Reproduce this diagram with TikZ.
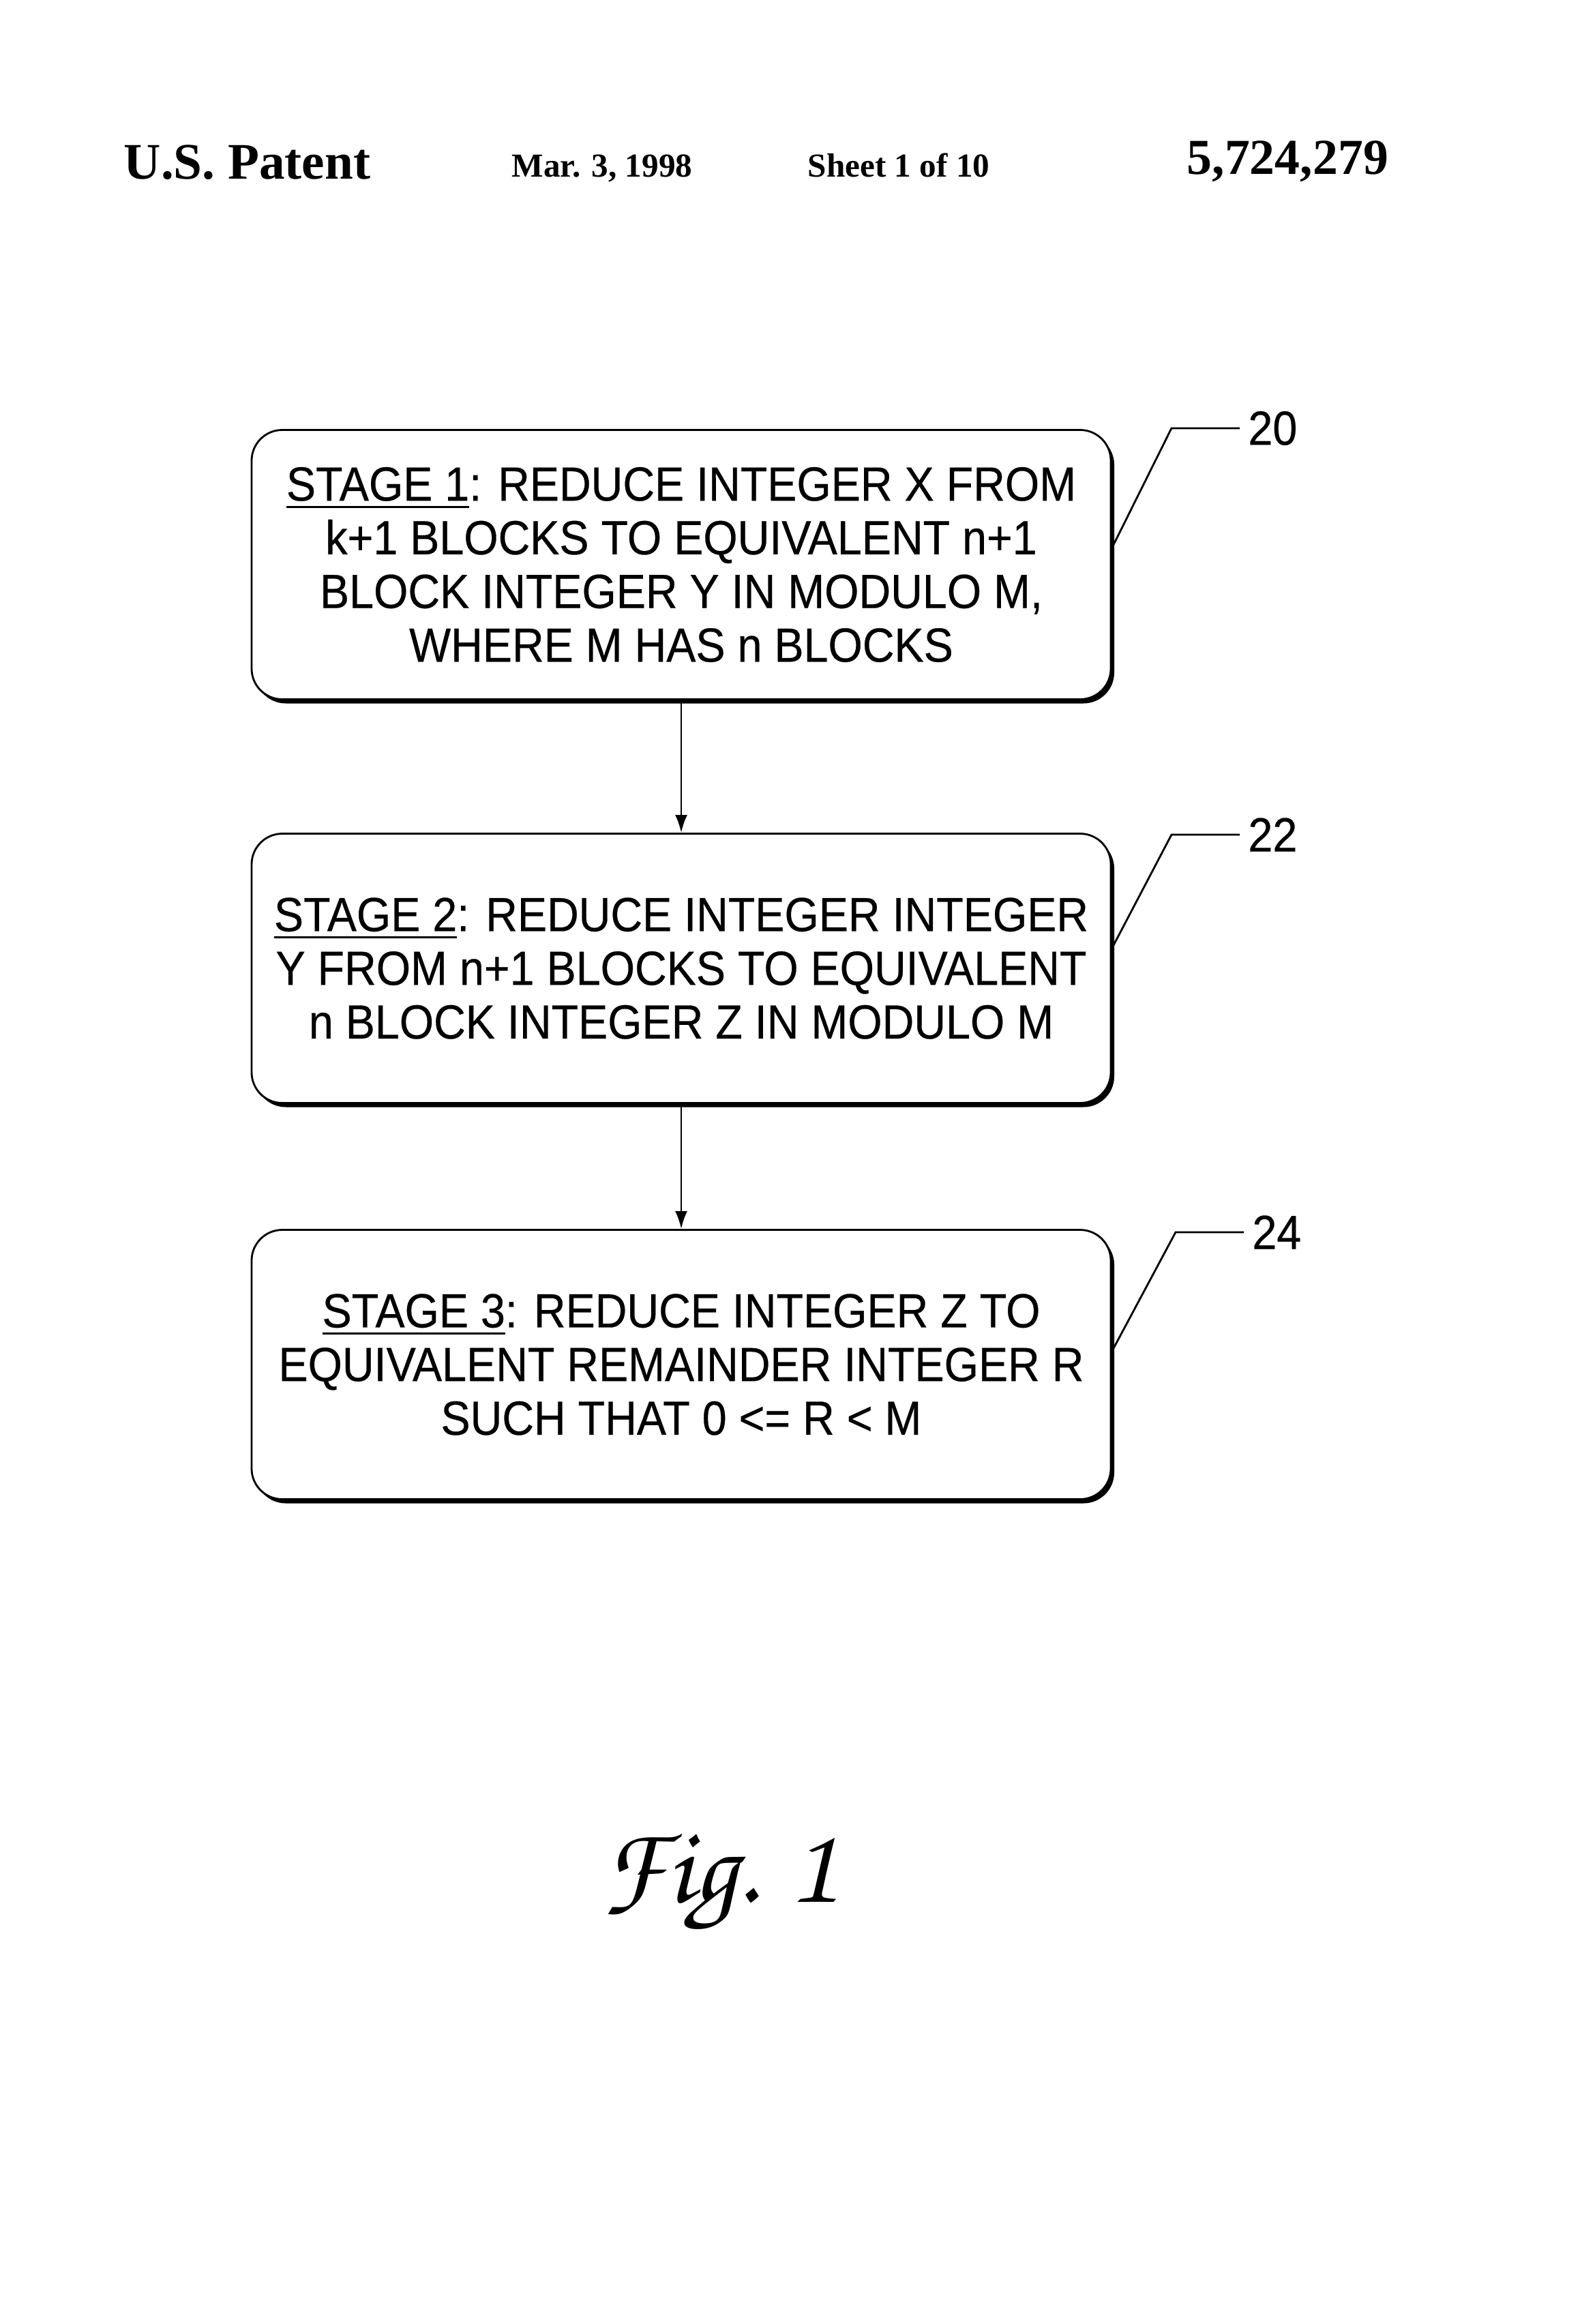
\documentclass[tikz,border=0pt]{standalone}
\usepackage[T1]{fontenc}
\usepackage{fontspec}
\newfontfamily\boxfont[FakeStretch=0.92,FakeBold=0.4]{Liberation Sans}
\newfontfamily\headfont{Liberation Serif}
\usetikzlibrary{shadows,arrows.meta}
\newcommand\stul[1]{\setbox0\hbox{#1}\rlap{\rule[-1.1mm]{\wd0}{0.35mm}}\box0}
\begin{document}
\begin{tikzpicture}[x=1mm,y=-1mm,stage/.style={shape=rectangle,rounded corners=4.5mm,draw=black,line width=0.8pt,fill=white,minimum width=126mm,minimum height=39.5mm,align=center,font=\boxfont\fontsize{20pt}{22.4pt}\selectfont,drop shadow={shadow xshift=0.5mm,shadow yshift=-0.6mm,fill=black,opacity=1}},refno/.style={anchor=west,font=\boxfont\fontsize{20pt}{22pt}\selectfont},lead/.style={line width=0.8pt},flow/.style={line width=0.8pt,-{Latex[length=2.6mm,width=1.8mm]}},head/.style={anchor=base west,inner sep=0pt}]
\def\cx{99.9};
\def\lx{181.8};

\useasboundingbox (0,0) rectangle (232,340.8);

\node[head,font=\headfont\bfseries\fontsize{21.4pt}{24pt}\selectfont] (pat) at (18.1,26.3) {U.S. Patent};
\node[head,font=\headfont\bfseries\fontsize{14pt}{16pt}\selectfont] (date) at (75.0,26.0) {Mar. 3, 1998};
\node[head,font=\headfont\bfseries\fontsize{14pt}{16pt}\selectfont] (sheet) at (118.4,26.0) {Sheet 1 of 10};
\node[head,font=\headfont\bfseries\fontsize{21pt}{24pt}\selectfont] (num) at (174.0,25.6) {5,724,279};

\node[stage] (S1) at (\cx,82.8) {\stul{STAGE 1}: REDUCE INTEGER X FROM\\k+1 BLOCKS TO EQUIVALENT n+1\\BLOCK INTEGER Y IN MODULO M,\\WHERE M HAS n BLOCKS};
\node[stage] (S2) at (\cx,142.0) {\stul{STAGE 2}: REDUCE INTEGER INTEGER\\Y FROM n+1 BLOCKS TO EQUIVALENT\\n BLOCK INTEGER Z IN MODULO M};
\node[stage] (S3) at (\cx,200.1) {\stul{STAGE 3}: REDUCE INTEGER Z TO\\EQUIVALENT REMAINDER INTEGER R\\SUCH THAT 0 <= R < M};
\draw[flow] (S1) -- (S2);
\draw[flow] (S2) -- (S3);

\node[refno] (L20) at (\lx,62.8) {20};
\coordinate (k20) at (171.8,62.8);
\draw[lead] ([yshift=2.4mm]S1.east) -- (k20) -- (L20.west);
\node[refno] (L22) at (\lx,122.4) {22};
\coordinate (k22) at (171.8,122.4);
\draw[lead] ([yshift=2.9mm]S2.east) -- (k22) -- (L22.west);
\node[refno] (L24) at (\lx+0.6,180.7) {24};
\coordinate (k24) at (172.4,180.7);
\draw[lead] ([yshift=1.9mm]S3.east) -- (k24) -- (L24.west);

\node[font=\usefont{T1}{pzc}{mb}{it}\fontsize{46pt}{50pt}\selectfont] (fig) at (105.5,276.5) {Fig. 1};
\end{tikzpicture}
\end{document}
